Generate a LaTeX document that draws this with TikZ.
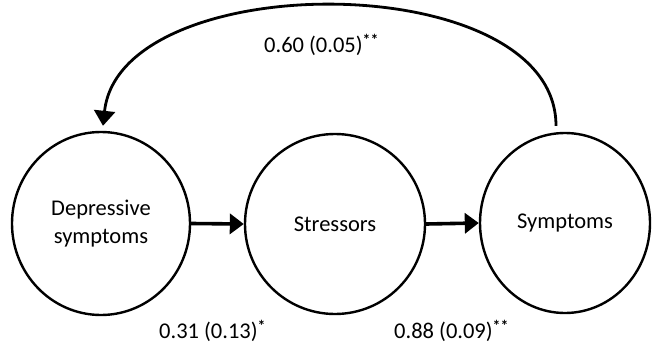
\documentclass[tikz,border=0pt]{standalone}
\usepackage{fontspec}
\setmainfont{Carlito}
\usetikzlibrary{shapes.geometric,arrows.meta}
\begin{document}
\begin{tikzpicture}[x=1pt,y=-1pt,
  latent/.style={draw=black,line width=2.4pt,ellipse,inner sep=0pt,
    font=\fontsize{22.5}{28}\selectfont,align=center},
  pathlbl/.style={font=\fontsize{22.5}{28}\selectfont,inner sep=0pt},
  straightarr/.style={line width=3.6pt,-{Triangle[length=14pt,width=20pt]}},
  curvearr/.style={line width=2.8pt,-{Triangle[length=15pt,width=21pt]}}]
\useasboundingbox (0,0) rectangle (655,345);
\node[latent,minimum width=178pt,minimum height=183pt] (A) at (101,223.5) {Depressive\\symptoms};
\node[latent,minimum width=180pt,minimum height=180pt] (B) at (335,224) {Stressors};
\node[latent,minimum width=170pt,minimum height=180pt] (C) at (565,223) {Symptoms};
\draw[straightarr] (A.east) -- (B.west);
\draw[straightarr] (B.east) -- (C.west);
\coordinate (cs) at ([shift={(-9,-6)}]C.north);
\coordinate (ce) at ([shift={(2,-5)}]A.north);
\draw[curvearr] (cs) .. controls (556,-34) and (120,-34) .. (ce);
\node[pathlbl,anchor=west] (l1) at (264,45) {0.60 (0.05)\textsuperscript{\textbf{**}}};
\node[pathlbl,anchor=west] (l2) at (159,331) {0.31 (0.13)\textsuperscript{\textbf{*}}};
\node[pathlbl,anchor=west] (l3) at (394,331) {0.88 (0.09)\textsuperscript{\textbf{**}}};
\end{tikzpicture}
\end{document}
